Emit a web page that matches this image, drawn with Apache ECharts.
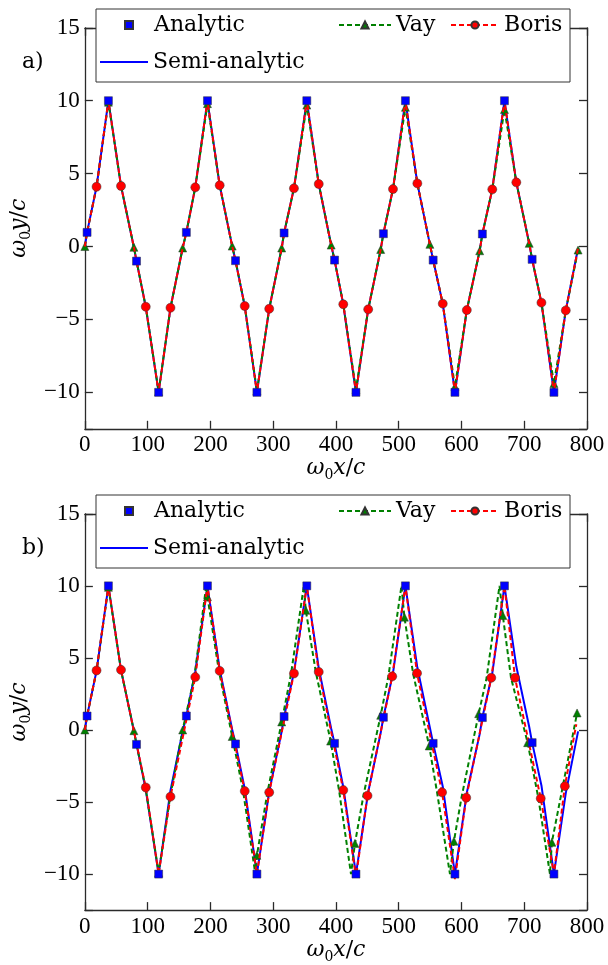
<!DOCTYPE html>
<html><head><meta charset="utf-8">
<script src="https://cdn.jsdelivr.net/npm/echarts@6/dist/echarts.min.js"></script>
<style>html,body{margin:0;padding:0;background:#fff}#c{width:608px;height:965px}</style>
</head><body><div id="c"></div>
<script>
// ---------- data ----------
const xTicks = [0, 100, 200, 300, 400, 500, 600, 700, 800];
const yTicks = [-10, -5, 0, 5, 10, 15];
const panelLabels = ['a)', 'b)'];
const seriesNames = ['Analytic', 'Semi-analytic', 'Vay', 'Boris'];

// Analytic (blue squares), same in both panels
const anaX = [3.5, 37.5, 82.3, 117.5, 161.7, 195.3, 240, 274.1, 317.4, 353.6, 397.8, 431.9, 475.6, 510.7, 554.9, 589.6, 633.3, 668.5, 712.6, 747.3];
const anaY = [0.97, 10, -1.0, -10, 0.97, 10, -0.97, -10, 0.93, 10, -0.93, -10, 0.88, 10, -0.93, -10, 0.86, 10, -0.88, -10];

// Semi-analytic (blue solid line), same in both panels
const semiX = [0, 3.5, 18.6, 37.5, 57.6, 78.1, 82.3, 97, 117.5, 136.4, 155.8, 161.7, 175.9, 195.3, 214.8, 234.7, 240, 254.7, 274.1, 293.7, 313.6, 317.4, 333.1, 353.6, 372.6, 392.4, 397.8, 411.7, 431.9, 451.4, 471.3, 475.6, 490.9, 510.7, 529.7, 549.7, 554.9, 570.2, 589.6, 608.5, 629, 633.3, 649.1, 668.5, 687.4, 707.9, 712.6, 727.4, 747.3, 766.2, 785.8];
const semiY = [0, 0.97, 4.1, 10, 4.15, -0.05, -1.0, -4.13, -10, -4.2, -0.1, 0.97, 4.06, 10, 4.2, 0.03, -0.97, -4.08, -10, -4.27, -0.1, 0.93, 3.99, 10, 4.29, 0.1, -0.93, -3.96, -10, -4.31, -0.2, 0.88, 3.94, 10, 4.33, 0.15, -0.93, -3.92, -10, -4.36, -0.29, 0.86, 3.92, 10, 4.4, 0.22, -0.88, -3.85, -10, -4.38, -0.1];

// Panel a) Vay triangles (line follows the semi-analytic path)
const vayAX = [0, 37.5, 78.1, 117.5, 155.8, 195.3, 234.7, 274.1, 313.6, 353.6, 392.4, 431.9, 471.3, 510.7, 549.7, 589.6, 629, 668.5, 707.9, 747.3, 785.8];
const vayAY = [0, 9.9, -0.05, -9.95, -0.1, 9.8, 0.03, -9.9, -0.1, 9.7, 0.1, -9.8, -0.2, 9.55, 0.15, -9.6, -0.29, 9.4, 0.22, -9.4, -0.24];
// Panel a) Boris circles (line follows the semi-analytic path)
const borisAX = [18.6, 57.6, 97, 136.4, 175.9, 214.8, 254.7, 293.7, 333.1, 372.6, 411.7, 451.4, 490.9, 529.7, 570.2, 608.5, 649.1, 687.4, 727.4, 766.2];
const borisAY = [4.1, 4.15, -4.13, -4.2, 4.06, 4.2, -4.08, -4.27, 3.99, 4.29, -3.96, -4.31, 3.94, 4.33, -3.92, -4.36, 3.92, 4.4, -3.85, -4.38];

// Panel b) Vay triangles and the other vertices of its dashed line
const vayBX = [0, 37.5, 78.1, 117.5, 155.8, 195.3, 234.7, 274.1, 313.6, 352, 391.5, 430.3, 471.3, 509.1, 548.6, 588, 627.4, 665.9, 705.4, 744, 784.2];
const vayBY = [0, 9.9, -0.05, -9.9, 0, 9.25, -0.45, -8.7, 0.56, 8.3, -0.77, -7.87, 1.02, 7.83, -1.11, -7.72, 1.13, 7.94, -0.88, -7.8, 1.18];
const vayBLineX = [3.5, 18.6, 57.6, 82.3, 97, 136.4, 174.5, 193.3, 213.5, 252, 271.6, 291, 328.5, 348.9, 368, 405, 424, 444, 483.5, 504.4, 523, 561, 581.7, 600, 640, 660.6, 679, 722.6, 741, 761.5];
const vayBLineY = [0.97, 4.1, 4.15, -1.0, -4.1, -4.5, 3.7, 10, 4.1, -4.2, -10, -4.3, 3.9, 10, 4.0, -4.2, -10, -4.5, 3.7, 10, 3.9, -4.3, -10, -4.7, 3.6, 10, 3.6, -4.75, -10, -3.9];

// Panel b) Boris circles and the other vertices of its dashed line
const borisBX = [18.6, 57.6, 97, 136.4, 175.9, 214.8, 254.7, 293.7, 333.1, 372.6, 411.7, 450.3, 489.7, 529.2, 569.1, 607.6, 647.5, 685.3, 726.3, 764.7];
const borisBY = [4.13, 4.17, -3.99, -4.63, 3.67, 4.1, -4.24, -4.33, 3.92, 4.03, -4.17, -4.56, 3.72, 3.94, -4.33, -4.7, 3.62, 3.62, -4.75, -3.9];
const borisBLineX = [0, 3.5, 37.5, 117.5, 195.3, 274.1, 353.6, 431.9, 510.7, 589.6, 668.5, 747.3, 783];
const borisBLineY = [0, 0.97, 10, -10, 10, -10, 10, -10.2, 10, -10.35, 10, -10, 0.4];

// ---------- helpers ----------
function merge(pathX, pathY, markX, markY) {
  const pts = [];
  const used = new Set();
  for (let i = 0; i < pathX.length; i++) {
    const m = markX.findIndex(v => Math.abs(v - pathX[i]) < 1e-6);
    if (m >= 0) { pts.push({ value: [markX[m], markY[m]] }); used.add(m); }
    else pts.push({ value: [pathX[i], pathY[i]], symbol: 'none' });
  }
  markX.forEach((x, m) => { if (!used.has(m)) pts.push({ value: [x, markY[m]] }); });
  pts.sort((a, b) => a.value[0] - b.value[0]);
  return pts;
}
const zip = (a, b) => a.map((v, i) => [v, b[i]]);
const fmt = v => (Math.abs(v % 5) > 1e-9) ? '' : (v < 0 ? '\u2212' + Math.abs(v) : String(v));

const BLUE = '#0000ff', GREEN = '#008000', RED = '#ff0000';
const AX = '#2a2a2a';
const serif = 'DejaVu Serif';
const tickFont = 'Liberation Serif';
const panelTop = [27.8, 513.8];
const panelH = 401;
const dash = [5, 3];

const nameRich = {
  i: { fontStyle: 'italic', fontSize: 22, fontFamily: serif, lineHeight: 28, color: '#000' },
  s: { fontSize: 14, fontFamily: serif, verticalAlign: 'bottom', lineHeight: 14, color: '#000' },
  n: { fontSize: 22, fontFamily: serif, lineHeight: 28, color: '#000' }
};

const grid = [], xAxis = [], yAxis = [], series = [], legend = [], title = [], graphic = [];
const markerBorder = { borderColor: '#333', borderWidth: 0.5 };

for (let p = 0; p < 2; p++) {
  const off = p === 0 ? 0 : 486;
  grid.push({ left: 79.5, right: 21, top: panelTop[p], height: panelH, containLabel: false });
  const axLine = { show: true, onZero: false, lineStyle: { color: AX, width: 1.3 } };
  const axTick = { show: true, inside: true, length: 8, lineStyle: { color: AX, width: 1.3 } };
  xAxis.push({
    type: 'value', gridIndex: p, position: 'bottom', min: xTicks[0], max: xTicks[xTicks.length - 1], interval: 100,
    axisLine: axLine, axisTick: axTick, splitLine: { show: false },
    axisLabel: { margin: 5, fontFamily: tickFont, fontSize: 23, color: '#000', formatter: v => String(v) },
    name: '{i|ω}{s|0}{i|x}{n|/}{i|c}', nameLocation: 'middle', nameGap: 22,
    nameTextStyle: { rich: nameRich }
  });
  xAxis.push({
    type: 'value', gridIndex: p, position: 'top', min: xTicks[0], max: xTicks[xTicks.length - 1], interval: 100,
    axisLine: axLine, axisTick: axTick, splitLine: { show: false }, axisLabel: { show: false }
  });
  yAxis.push({
    type: 'value', gridIndex: p, position: 'left', min: -12.5, max: 15, splitNumber: 5,
    axisLine: axLine, axisTick: axTick, splitLine: { show: false },
    axisLabel: { margin: 5, fontFamily: tickFont, fontSize: 23, color: '#000', formatter: fmt },
    name: '{i|ω}{s|0}{i|y}{n|/}{i|c}', nameLocation: 'middle', nameRotate: 90, nameGap: 44,
    nameTextStyle: { rich: nameRich }
  });
  yAxis.push({
    type: 'value', gridIndex: p, position: 'right', min: -12.5, max: 15, splitNumber: 5,
    axisLine: axLine, axisTick: axTick, splitLine: { show: false }, axisLabel: { show: false }
  });
  const xi = p * 2, yi = p * 2;

  series.push({
    name: seriesNames[1], type: 'line', xAxisIndex: xi, yAxisIndex: yi, color: BLUE,
    data: zip(semiX, semiY), symbol: 'none', lineStyle: { color: BLUE, width: 2 }, z: 2, animation: false
  });
  const vayData = p === 0 ? merge(semiX, semiY, vayAX, vayAY) : merge(vayBLineX, vayBLineY, vayBX, vayBY);
  series.push({
    name: seriesNames[2], type: 'line', xAxisIndex: xi, yAxisIndex: yi, color: GREEN,
    data: vayData, symbol: 'triangle', symbolSize: 8, showSymbol: true,
    lineStyle: { color: GREEN, width: 2, type: dash }, itemStyle: Object.assign({ color: GREEN }, markerBorder), z: 3, animation: false
  });
  const borisData = p === 0 ? merge(semiX, semiY, borisAX, borisAY) : merge(borisBLineX, borisBLineY, borisBX, borisBY);
  series.push({
    name: seriesNames[3], type: 'line', xAxisIndex: xi, yAxisIndex: yi, color: RED,
    data: borisData, symbol: 'circle', symbolSize: 9, showSymbol: true,
    lineStyle: { color: RED, width: 2, type: dash }, itemStyle: Object.assign({ color: RED }, markerBorder), z: 4, animation: false
  });
  series.push({
    name: seriesNames[0], type: 'scatter', xAxisIndex: xi, yAxisIndex: yi, color: BLUE,
    data: zip(anaX, anaY), symbol: 'rect', symbolSize: 8,
    itemStyle: Object.assign({ color: BLUE, opacity: 1 }, markerBorder), z: 5, animation: false
  });

  const lt = { fontFamily: serif, fontSize: 22, color: '#000', lineHeight: 26 };
  legend.push({ data: [seriesNames[0]], left: 124, top: 12 + off, padding: 0, itemWidth: 8, itemHeight: 8, z: 20,
    selectedMode: false, textStyle: Object.assign({ padding: [0, 0, 0, 16] }, lt) });
  legend.push({ data: [seriesNames[2]], left: 338, top: 12 + off, padding: 0, itemWidth: 52, itemHeight: 9, z: 20,
    selectedMode: false, textStyle: lt });
  legend.push({ data: [seriesNames[3]], left: 450, top: 12 + off, padding: 0, itemWidth: 48, itemHeight: 9, z: 20,
    selectedMode: false, textStyle: lt });
  legend.push({ data: [{ name: seriesNames[1], icon: 'rect' }], left: 100, top: 49 + off, padding: 0, itemWidth: 48, itemHeight: 2, z: 20,
    selectedMode: false, textStyle: lt });

  graphic.push({ type: 'rect', z: 10, shape: { x: 96, y: 9 + off, width: 474, height: 73 },
    style: { fill: '#fff', stroke: '#333', lineWidth: 1 } });
  title.push({ text: panelLabels[p], left: 22, top: 49 + off, padding: 0,
    textStyle: { fontFamily: serif, fontSize: 22, fontWeight: 'normal', color: '#000', lineHeight: 26 } });
}

const chart = echarts.init(document.getElementById('c'), null, { renderer: 'canvas' });
chart.setOption({
  animation: false,
  backgroundColor: '#fff',
  title, grid, xAxis, yAxis, series, legend,
  graphic: { elements: graphic }
});
</script></body></html>
